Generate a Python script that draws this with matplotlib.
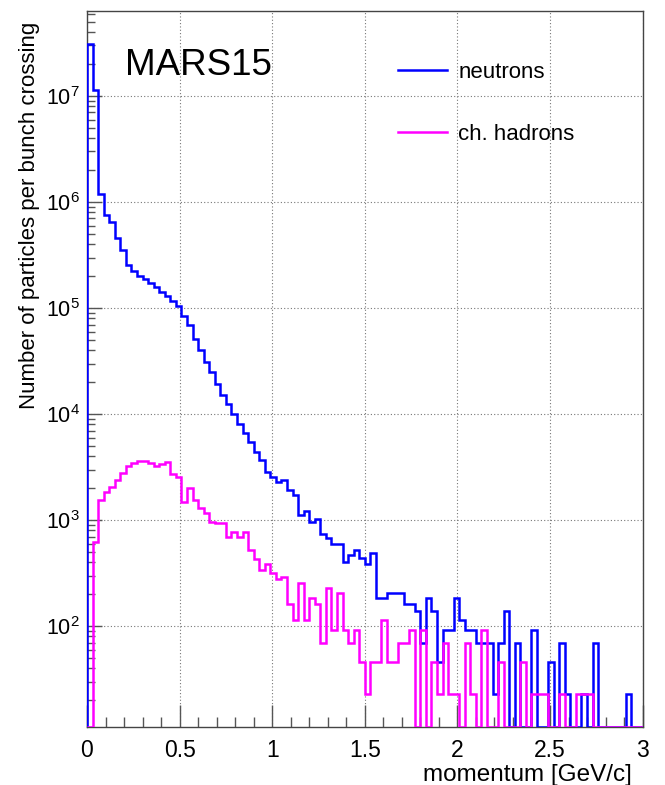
import numpy as np
import matplotlib
matplotlib.use("Agg")
import matplotlib.pyplot as plt
from matplotlib.ticker import FixedLocator, LogLocator, NullFormatter

plt.rcParams["font.family"] = ["Liberation Sans", "DejaVu Sans"]
plt.rcParams["mathtext.default"] = "regular"

# 100 bins of 0.03 GeV/c from 0 to 3 GeV/c
P_MIN, P_MAX, N_BINS = 0.0, 3.0, 100

# particles per bunch crossing, one value per momentum bin
neutrons = [
    3.1e7, 1.15e7, 1.2e6, 7.6e5, 6.5e5, 4.6e5, 3.5e5, 2.57e5, 2.23e5, 1.99e5,
    1.89e5, 1.74e5, 1.58e5, 1.42e5, 1.29e5, 1.16e5, 1.04e5, 8.5e4, 6.9e4, 5.1e4,
    4.05e4, 3.1e4, 2.5e4, 1.94e4, 1.5e4, 1.25e4, 1.0e4, 8.0e3, 6.6e3, 5.4e3,
    4.4e3, 3.66e3, 2.84e3, 2.55e3, 2.3e3, 2.4e3, 1.93e3, 1.73e3, 1.12e3, 1.22e3,
    950, 1020, 743, 676, 600, 600, 406, 465, 518, 442,
    388, 487, 184, 184, 207, 207, 207, 161, 161, 138,
    69, 184, 138, 46, 92, 92, 184, 115, 92, 92,
    69, 69, 69, 23, 69, 138, 0, 69, 0, 0,
    92, 0, 0, 46, 0, 69, 23, 0, 0, 23,
    0, 69, 0, 0, 0, 0, 0, 23, 0, 0,
]
ch_hadrons = [
    0, 624, 1547, 1850, 2040, 2390, 2770, 3270, 3440, 3600,
    3600, 3440, 3270, 3400, 3550, 2720, 2530, 1490, 1990, 1550,
    1290, 1160, 964, 930, 930, 695, 776, 695, 776, 520,
    434, 336, 383, 315, 280, 291, 160, 115, 253, 115,
    184, 161, 69, 230, 92, 207, 92, 69, 92, 46,
    23, 46, 46, 115, 46, 46, 69, 69, 92, 0,
    92, 0, 46, 23, 69, 23, 23, 0, 69, 23,
    0, 92, 0, 0, 46, 0, 0, 0, 46, 0,
    23, 23, 23, 0, 0, 23, 0, 0, 23, 23,
    23, 0, 0, 0, 0, 0, 0, 0, 0, 0,
]

Y_MIN, Y_MAX = 11.3, 6.4e7
C_NEUTRON = "#0000ff"
C_HADRON = "#ff00ff"

edges = np.linspace(P_MIN, P_MAX, N_BINS + 1)

fig = plt.figure(figsize=(6.65, 7.85), dpi=100)
ax = fig.add_axes([0.1308, 0.0745, 0.8355, 0.912])

# empty bins sit on the axis floor, as ROOT draws them
for vals, col, lab in [(neutrons, C_NEUTRON, "neutrons"),
                       (ch_hadrons, C_HADRON, "ch. hadrons")]:
    v = np.clip(np.asarray(vals, dtype=float), Y_MIN, None)
    ax.stairs(v, edges, baseline=Y_MIN, color=col, lw=1.8, label=lab, zorder=3)

ax.set_yscale("log")
ax.set_xlim(P_MIN, P_MAX)
ax.set_ylim(Y_MIN, Y_MAX)

ax.xaxis.set_major_locator(FixedLocator(np.arange(0, 3.01, 0.5)))
ax.xaxis.set_minor_locator(FixedLocator(np.arange(0, 3.01, 0.1)))
ax.set_xticklabels(["0", "0.5", "1", "1.5", "2", "2.5", "3"])
ax.yaxis.set_major_locator(FixedLocator([1e2, 1e3, 1e4, 1e5, 1e6, 1e7]))
ax.yaxis.set_minor_locator(LogLocator(base=10, subs=np.arange(2, 10), numticks=20))
ax.yaxis.set_minor_formatter(NullFormatter())
ax.set_yticklabels([r"$10^{%d}$" % e for e in range(2, 8)])

ax.tick_params(axis="x", which="major", direction="in", length=16, width=1,
               color="#555555", labelsize=16.5, pad=9, top=False)
ax.tick_params(axis="x", which="minor", direction="in", length=7.5, width=1,
               color="#555555", top=False)
ax.tick_params(axis="y", which="major", direction="in", length=11, width=1,
               color="#555555", labelsize=15.5, pad=5, right=False)
ax.tick_params(axis="y", which="minor", direction="in", length=6, width=1,
               color="#555555", right=False)

ax.grid(True, which="major", color="#777777", lw=0.8, ls=(0, (1, 2)))
ax.set_axisbelow(True)
for sp in ax.spines.values():
    sp.set_color("#444444")
    sp.set_linewidth(1.0)

ax.set_xlabel("momentum [GeV/c]", fontsize=17.5, loc="right")
ax.xaxis.set_label_coords(0.981, -0.052)
ax.set_ylabel("Number of particles per bunch crossing", fontsize=16, loc="top")
ax.yaxis.set_label_coords(-0.085, 0.985)

ax.text(0.068, 0.923, "MARS15", transform=ax.transAxes, fontsize=26.5,
        ha="left", va="center")

ax.legend(loc="upper left", bbox_to_anchor=(0.56, 0.928), frameon=False,
          fontsize=16, handlelength=2.2, handletextpad=0.5, labelspacing=1.85,
          borderpad=0, borderaxespad=0,
          handles=[plt.Line2D([], [], color=C_NEUTRON, lw=1.8),
                   plt.Line2D([], [], color=C_HADRON, lw=1.8)],
          labels=["neutrons", "ch. hadrons"])

fig.savefig("out.png", dpi=100)
